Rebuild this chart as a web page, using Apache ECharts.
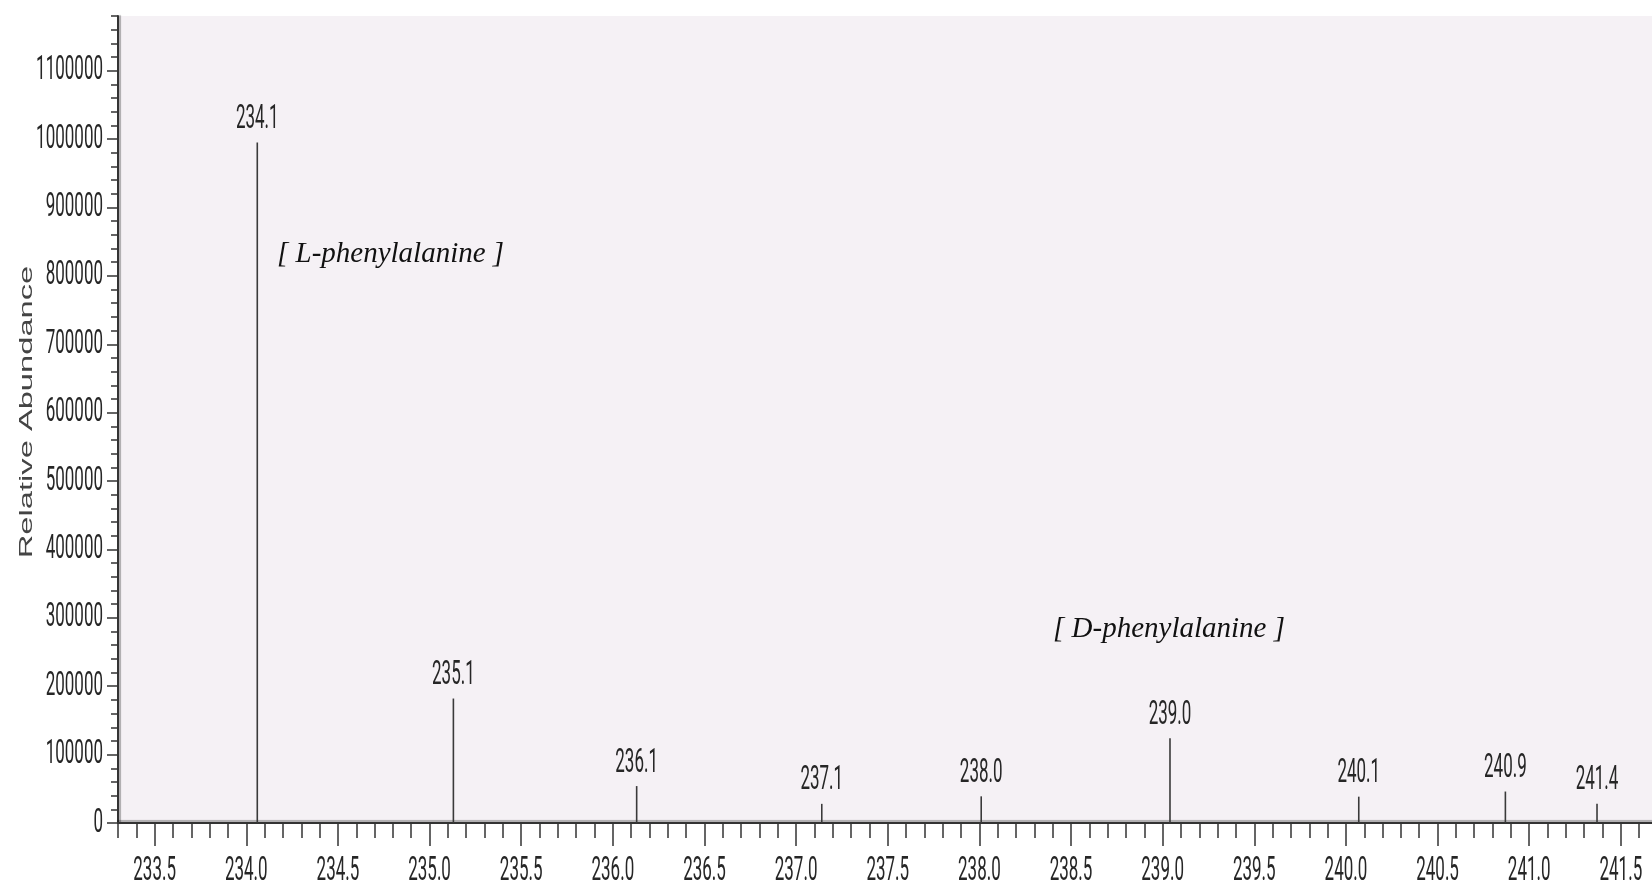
<!DOCTYPE html>
<html>
<head>
<meta charset="utf-8">
<title>Mass spectrum – phenylalanine</title>
<script src="https://cdn.jsdelivr.net/npm/echarts@6/dist/echarts.min.js"></script>
<style>
  html, body { margin: 0; padding: 0; background: #ffffff; }
  #chart { width: 1652px; height: 887px; }
</style>
</head>
<body>
<div id="chart"></div>
<script>
// Peak list: m/z and relative abundance of each centroid line
const peakMz = [234.06, 235.13, 236.13, 237.14, 238.01, 239.04, 240.07, 240.87, 241.37];
const peakAbundance = [995000, 182000, 54000, 28000, 39000, 124000, 38500, 46000, 28000];

// Axis tick labels
const xTickLabels = ['233.5', '234.0', '234.5', '235.0', '235.5', '236.0', '236.5', '237.0', '237.5',
  '238.0', '238.5', '239.0', '239.5', '240.0', '240.5', '241.0', '241.5'];
const yTickLabels = ['0', '100000', '200000', '300000', '400000', '500000', '600000',
  '700000', '800000', '900000', '1000000', '1100000'];

// Axis ranges and minor tick steps
const xMin = 233.3, xMax = 241.67;
const yMin = 0, yMax = 1180000;
const xMinorStep = 0.1, yMinorStep = 20000;

const xMajorTicks = xTickLabels.map(Number);
const yMajorTicks = yTickLabels.map(Number);
const xMinorTicks = [];
for (let k = Math.round(xMin / xMinorStep); k * xMinorStep <= xMax + 1e-9; k++) {
  xMinorTicks.push(+(k * xMinorStep).toFixed(1));
}
const yMinorTicks = [];
for (let v = yMin; v <= yMax; v += yMinorStep) yMinorTicks.push(v);

// Tall, narrow numerals of the instrument printout
const NUM_FAMILY = 'Roboto, "Liberation Sans", Arial, sans-serif';
const NUM_SIZE = 20, NUM_SX = 0.85, NUM_SY = 1.7;
const INK = '#262626';

function numText(x, y, text, align, vAlign) {
  return {
    type: 'text', x: x, y: y, scaleX: NUM_SX, scaleY: NUM_SY,
    style: { text: text, fill: INK, fontSize: NUM_SIZE, fontFamily: NUM_FAMILY,
             align: align, verticalAlign: vAlign }
  };
}

const axisLineStyle = { color: '#333', width: 2 };
const tickStyle = { color: '#333', width: 1.5 };

const chart = echarts.init(document.getElementById('chart'), null, { renderer: 'canvas' });

chart.setOption({
  animation: false,
  backgroundColor: '#ffffff',
  grid: {
    left: 118, right: 0, top: 16, bottom: 64,
    show: true, backgroundColor: '#f5f1f5', borderWidth: 0
  },
  xAxis: [
    {
      type: 'value', min: xMin, max: xMax, position: 'bottom',
      axisLine: { show: true, onZero: false,
        lineStyle: Object.assign({}, axisLineStyle, { shadowColor: 'rgba(0,0,0,0.3)', shadowOffsetY: -2, shadowBlur: 1 }) },
      axisTick: { show: true, length: 15, customValues: xMinorTicks, lineStyle: tickStyle },
      axisLabel: { show: false },
      splitLine: { show: false }
    },
    {
      type: 'value', min: xMin, max: xMax, position: 'bottom', offset: 0,
      axisLine: { show: false },
      axisTick: { show: true, length: 23, customValues: xMajorTicks, lineStyle: tickStyle },
      axisLabel: { show: false },
      splitLine: { show: false }
    }
  ],
  yAxis: [
    {
      type: 'value', min: yMin, max: yMax, position: 'left',
      axisLine: { show: true, onZero: false,
        lineStyle: Object.assign({}, axisLineStyle, { shadowColor: 'rgba(0,0,0,0.3)', shadowOffsetX: 2, shadowBlur: 1 }) },
      axisTick: { show: true, length: 7, customValues: yMinorTicks, lineStyle: tickStyle },
      axisLabel: { show: false },
      splitLine: { show: false }
    },
    {
      type: 'value', min: yMin, max: yMax, position: 'left', offset: 0,
      axisLine: { show: false },
      axisTick: { show: true, length: 11, customValues: yMajorTicks, lineStyle: tickStyle },
      axisLabel: { show: false },
      splitLine: { show: false }
    }
  ],
  graphic: [
    {
      type: 'text', x: 27, y: 412, rotation: Math.PI / 2, scaleX: 1.72,
      style: { text: 'Relative Abundance', fill: '#444', fontSize: 19,
               fontFamily: '"Liberation Sans", Arial, sans-serif',
               align: 'center', verticalAlign: 'middle' }
    },
    {
      type: 'text', left: 277, top: 240,
      style: { text: '[ L-phenylalanine ]', fill: '#111',
               font: 'italic 29px "Liberation Serif", "Times New Roman", serif' }
    },
    {
      type: 'text', left: 1053, top: 615,
      style: { text: '[ D-phenylalanine ]', fill: '#111',
               font: 'italic 29px "Liberation Serif", "Times New Roman", serif' }
    }
  ],
  series: [
    {
      // centroid lines with their m/z labels
      type: 'custom', name: 'peaks', xAxisIndex: 0, yAxisIndex: 0, clip: false,
      data: peakMz.map((m, i) => [m, peakAbundance[i]]),
      renderItem: function (params, api) {
        const m = api.value(0), a = api.value(1);
        const base = api.coord([m, 0]);
        const top = api.coord([m, a]);
        return {
          type: 'group',
          children: [
            { type: 'line', shape: { x1: base[0], y1: base[1], x2: top[0], y2: top[1] },
              style: { stroke: '#3a3a3a', lineWidth: 1.6 } },
            numText(top[0], top[1] - 6, m.toFixed(1), 'center', 'bottom')
          ]
        };
      }
    },
    {
      // x tick labels
      type: 'custom', name: 'xLabels', xAxisIndex: 0, yAxisIndex: 0, clip: false, silent: true,
      data: xMajorTicks.map(v => [v, 0]),
      renderItem: function (params, api) {
        const p = api.coord([api.value(0), 0]);
        return numText(p[0], p[1] + 31, xTickLabels[params.dataIndex], 'center', 'top');
      }
    },
    {
      // y tick labels
      type: 'custom', name: 'yLabels', xAxisIndex: 0, yAxisIndex: 0, clip: false, silent: true,
      data: yMajorTicks.map(v => [xMin, v]),
      renderItem: function (params, api) {
        const p = api.coord([xMin, api.value(1)]);
        return numText(p[0] - 15, p[1], yTickLabels[params.dataIndex], 'right', 'middle');
      }
    }
  ]
});
</script>
</body>
</html>
